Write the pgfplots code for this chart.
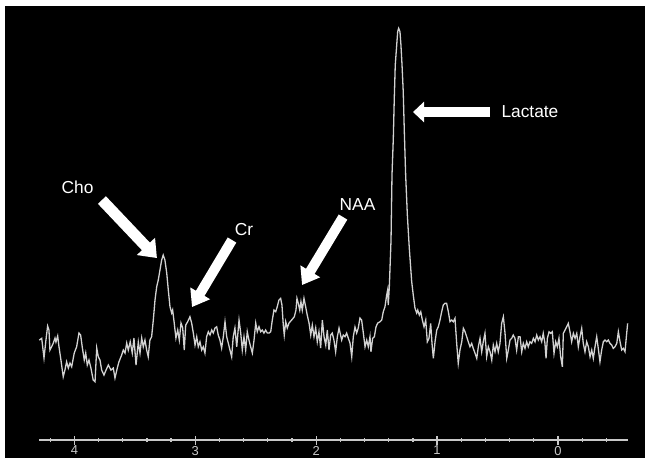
\documentclass[border=0pt]{standalone}
\usepackage{fontspec}
\setmainfont{Liberation Sans}
\usepackage{pgfplots}
\pgfplotsset{compat=1.18}
\usetikzlibrary{arrows.meta}

\definecolor{trace}{HTML}{D2D2D2}
\definecolor{ruler}{HTML}{C8C8C8}

% spectrum, chemical shift (ppm) vs. signal above the ruler line
\pgfplotstableread{
ppm amp
4.290 100
4.270 101.7
4.251 82
4.235 100
4.221 114
4.210 110
4.202 90
4.188 93.3
4.174 97
4.160 102
4.152 98
4.138 104
4.127 93.3
4.111 80
4.092 63.3
4.078 70
4.064 78.3
4.050 72
4.036 77
4.022 73.3
4.001 87
3.981 93.3
3.962 107
3.948 105
3.935 93.3
3.918 80
3.906 87
3.893 75
3.879 80
3.863 72
3.844 60
3.829 58.3
3.815 92
3.802 83.3
3.788 80
3.774 70
3.755 65
3.738 70
3.719 75
3.697 70
3.678 72
3.664 62
3.645 72
3.631 78.3
3.609 85
3.595 90
3.581 87
3.567 97
3.554 90
3.538 98.3
3.521 87
3.507 102
3.490 75
3.471 98
3.457 87
3.443 102
3.430 93.3
3.416 100
3.402 90
3.389 83.3
3.375 100
3.361 103.3
3.347 120
3.333 140
3.319 153.3
3.306 160
3.292 170
3.278 180
3.265 185
3.251 180
3.236 167
3.223 150
3.209 133.3
3.195 127
3.187 130
3.174 117
3.160 102
3.145 110
3.132 100
3.118 117
3.104 112
3.091 90
3.079 115
3.063 118.3
3.044 123.3
3.030 117
3.016 107
3.002 95
2.988 103.3
2.975 93.3
2.961 98.3
2.947 90
2.934 93.3
2.920 87
2.906 103.3
2.892 108.3
2.878 105
2.864 110
2.851 107
2.837 112
2.823 113.3
2.810 105
2.796 100
2.782 92
2.768 103.3
2.754 118.3
2.740 103.3
2.727 97
2.713 90
2.699 83.3
2.686 103.3
2.672 112
2.657 93.3
2.638 120
2.624 107
2.611 90
2.597 103.3
2.583 90
2.570 108.3
2.556 100
2.542 93.3
2.528 87
2.514 100
2.500 117
2.487 108.3
2.473 113.3
2.459 108.3
2.446 110
2.432 107
2.418 110
2.404 107
2.390 107
2.376 108.3
2.363 120
2.349 130
2.335 128.3
2.322 133.3
2.308 140
2.294 141.7
2.283 135
2.272 115
2.264 105
2.252 118.3
2.239 112
2.225 117
2.203 120
2.181 123.3
2.167 130
2.159 141.7
2.148 136.7
2.136 130
2.126 138.3
2.115 130
2.101 141.7
2.087 133.3
2.074 125
2.059 117
2.045 105
2.032 115
2.018 103.3
2.004 112
1.991 98.3
1.977 108.3
1.963 92
1.949 120
1.935 103.3
1.921 95
1.908 110
1.894 90
1.880 105
1.867 107
1.853 100
1.839 88.3
1.825 103.3
1.811 112
1.789 100
1.776 105
1.762 103.3
1.748 107
1.734 101.7
1.720 97
1.706 83.3
1.693 103.3
1.679 113
1.665 107
1.652 112
1.638 122
1.624 120
1.610 107
1.596 93.3
1.582 100
1.569 93.3
1.555 103.3
1.547 88.3
1.533 101.7
1.519 103.3
1.505 113.3
1.491 117
1.472 118.3
1.458 120
1.445 128.3
1.431 133.3
1.417 145
1.409 150
1.404 135
1.395 153.3
1.387 180
1.381 200
1.373 265
1.362 302
1.354 342
1.346 375
1.334 395
1.326 408.3
1.318 411.7
1.307 408.3
1.299 395
1.290 375
1.280 348.3
1.271 308.3
1.260 265
1.246 225
1.230 192
1.210 158.3
1.197 145
1.183 132
1.169 127
1.160 130
1.147 125
1.135 128.3
1.122 120
1.108 113.3
1.094 120
1.081 98.3
1.067 101.7
1.053 116.7
1.042 96.7
1.031 81.7
1.017 98.3
1.003 110
0.990 113.3
0.976 120
0.962 128.3
0.949 135
0.935 136.7
0.921 136.7
0.907 128.3
0.893 118.3
0.879 120
0.866 118.3
0.852 121.7
0.838 96.7
0.825 76.7
0.811 90
0.796 98.3
0.783 111.7
0.769 108.3
0.755 103.3
0.742 98.3
0.728 93.3
0.714 96.7
0.701 91.7
0.686 86.7
0.672 81.7
0.659 93.3
0.645 101.7
0.631 88.3
0.618 98.3
0.604 106.7
0.590 83.3
0.576 93.3
0.562 88.3
0.548 80
0.535 95
0.521 88.3
0.507 96.7
0.494 88.3
0.480 96.7
0.466 116.7
0.452 123.3
0.438 106.7
0.424 81.7
0.411 90
0.397 100
0.383 101.7
0.370 105
0.356 101.7
0.342 90
0.328 103.3
0.314 103.3
0.300 88.3
0.287 96.7
0.273 91.7
0.259 98.3
0.246 93.3
0.232 98.3
0.218 96.7
0.204 101.7
0.190 98.3
0.176 105
0.163 100
0.149 103.3
0.135 98.3
0.122 106.7
0.108 96.7
0.099 81.7
0.088 101.7
0.074 108.3
0.060 106.7
0.047 108.3
0.033 86.7
0.019 98.3
0.006 93.3
-0.008 101.7
-0.022 83.3
-0.036 73.3
-0.044 106.7
-0.058 110
-0.072 113.3
-0.085 116.7
-0.099 108.3
-0.113 98.3
-0.127 106.7
-0.141 101.7
-0.155 106.7
-0.168 93.3
-0.182 103.3
-0.196 111.7
-0.209 96.7
-0.223 88.3
-0.237 98.3
-0.251 93.3
-0.265 83.3
-0.279 90
-0.292 81.7
-0.306 93.3
-0.320 103.3
-0.333 91.7
-0.347 78.3
-0.361 90
-0.375 98.3
-0.389 100
-0.403 98.3
-0.416 100
-0.430 96.7
-0.444 95
-0.457 91.7
-0.471 93.3
-0.486 96.7
-0.499 108.3
-0.513 98.3
-0.527 90
-0.540 91.7
-0.554 88.3
-0.568 106.7
-0.576 116.7
}\spectrum

\begin{document}
\begin{tikzpicture}
\begin{axis}[
  scale only axis, width=294.5bp, height=217bp,
  x dir=reverse, xmin=-0.579, xmax=4.293, ymin=0, ymax=434,
  enlargelimits=false, clip=false, axis on top,
  hide y axis, axis x line=bottom,
  axis line style={-, ruler, line width=1bp},
  every outer x axis line/.append style={-},
  xtick={0,1,2,3,4}, xticklabels={0,1,2,3,4},
  minor xtick={-0.4,-0.2,0.2,0.4,0.6,0.8,1.2,1.4,1.6,1.8,2.2,2.4,2.6,2.8,3.2,3.4,3.6,3.8,4.2},
  tick align=center, major tick length=4.5bp, minor tick length=2bp,
  tick style={ruler, line width=0.6bp},
  xticklabel style={font=\fontsize{6.5}{6.5}\selectfont, text=ruler, yshift=2.8bp},
  /pgf/number format/assume math mode=true,
]
% white frame and black screen
\fill[white] (axis cs:4.615,-20) rectangle (axis cs:-0.736,440);
\fill[black] (axis cs:4.574,-18) rectangle (axis cs:-0.720,434);

\addplot[trace, line width=0.65bp, mark=none] table[x=ppm, y=amp] {\spectrum};

% annotations
\begin{scope}[white, font=\fontsize{8.7}{8.7}\selectfont]
\draw[line width=5.5bp, -{Triangle[width=12bp,length=8bp]}] (axis cs:3.772,240) -- (axis cs:3.317,182);
\draw[line width=5bp, -{Triangle[width=11bp,length=8bp]}] (axis cs:2.696,200) -- (axis cs:3.027,133);
\draw[line width=5bp, -{Triangle[width=11bp,length=8bp]}] (axis cs:1.778,223) -- (axis cs:2.117,155);
\draw[line width=5bp, -{Triangle[width=10bp,length=5.5bp]}] (axis cs:0.562,328) -- (axis cs:1.199,328);
\node at (axis cs:3.974,252.5) {Cho};
\node at (axis cs:2.597,211) {Cr};
\node at (axis cs:1.658,236) {NAA};
\node at (axis cs:0.232,328) {Lactate};
\end{scope}
\end{axis}
\end{tikzpicture}
\end{document}
